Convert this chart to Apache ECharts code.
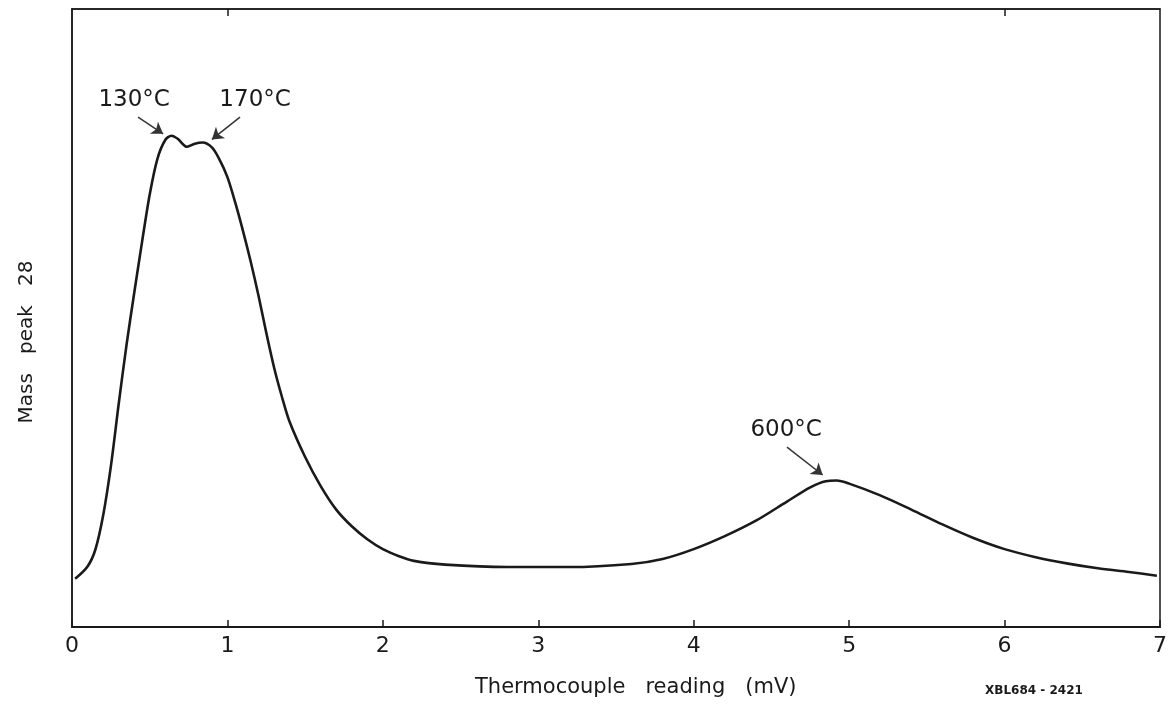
<!DOCTYPE html>
<html>
<head>
<meta charset="utf-8">
<script src="https://cdn.jsdelivr.net/npm/echarts@6/dist/echarts.min.js"></script>
<style>html,body{margin:0;padding:0;background:#fff;}#c{width:1173px;height:712px;}</style>
</head>
<body>
<div id="c"></div>
<script>
// Thermocouple reading (mV)
const xVals = [0.02, 0.10, 0.15, 0.20, 0.25, 0.30, 0.35, 0.40, 0.45, 0.50, 0.55, 0.60, 0.64, 0.68, 0.74, 0.79, 0.84, 0.90, 0.95, 1.00, 1.05, 1.10, 1.15, 1.20, 1.25, 1.30, 1.35, 1.40, 1.50, 1.60, 1.70, 1.80, 1.90, 2.00, 2.10, 2.20, 2.40, 2.80, 3.20, 3.60, 3.80, 4.00, 4.20, 4.40, 4.60, 4.75, 4.85, 4.92, 5.00, 5.20, 5.40, 5.60, 5.80, 6.00, 6.20, 6.40, 6.60, 6.80, 6.98];
// Mass peak 28 (arbitrary units)
const yVals = [7.8, 9.8, 12.5, 18.0, 26.0, 36.0, 45.5, 54.0, 62.2, 70.0, 75.8, 78.8, 79.5, 79.0, 77.7, 78.2, 78.4, 77.6, 75.6, 72.8, 68.7, 64.1, 59.1, 53.6, 47.6, 42.0, 37.3, 33.2, 27.5, 22.8, 19.0, 16.3, 14.2, 12.6, 11.5, 10.7, 10.1, 9.7, 9.7, 10.2, 11.0, 12.6, 14.7, 17.2, 20.3, 22.6, 23.6, 23.7, 23.2, 21.3, 19.0, 16.6, 14.4, 12.6, 11.3, 10.3, 9.5, 8.9, 8.3];
const xTicks = [0, 1, 2, 3, 4, 5, 6, 7];
const topTicks = [1, 6];
// annotations: label text, label position, arrow start, arrow end
const annoLabels = ['130°C', '170°C', '600°C'];
const annoLabelPos = [[0.40, 85.3], [1.178, 85.3], [4.595, 31.9]];
const arrowFrom = [[0.425, 82.5], [1.081, 82.5], [4.60, 29.1]];
const arrowTo = [[0.586, 79.8], [0.90, 78.9], [4.83, 24.6]];

const data = xVals.map((x, i) => [x, yVals[i]]);
const ink = '#1a1a1a';

const chart = echarts.init(document.getElementById('c'), null, {renderer: 'canvas'});
chart.setOption({
  animation: false,
  backgroundColor: '#fff',
  grid: {left: 72, right: 13, top: 9, bottom: 85, show: true, borderColor: ink, borderWidth: 1.5, backgroundColor: 'transparent'},
  xAxis: [{
    type: 'value', min: 0, max: 7, interval: 1, position: 'bottom',
    axisLine: {show: true, onZero: false, lineStyle: {color: ink, width: 2}},
    axisTick: {show: true, inside: true, length: 7, lineStyle: {color: ink, width: 1.5}},
    axisLabel: {show: true, margin: 8, color: ink, fontSize: 22, fontFamily: 'DejaVu Sans',
      formatter: v => xTicks.indexOf(v) >= 0 ? String(v) : ''},
    splitLine: {show: false}
  }, {
    type: 'value', min: 0, max: 7, interval: 1, position: 'top',
    axisLine: {show: true, onZero: false, lineStyle: {color: ink, width: 1.5}},
    axisTick: {show: true, inside: true, length: 7, customValues: topTicks, lineStyle: {color: ink, width: 1.5}},
    axisLabel: {show: false},
    splitLine: {show: false}
  }],
  yAxis: {
    type: 'value', min: 0, max: 100,
    axisLine: {show: true, onZero: false, lineStyle: {color: ink, width: 1.5}},
    axisTick: {show: false}, axisLabel: {show: false}, splitLine: {show: false}
  },
  graphic: [
    {type: 'text', left: 475, top: 677, silent: true,
      style: {text: 'Thermocouple   reading   (mV)', fill: ink, font: '21px "DejaVu Sans"'}},
    {type: 'text', left: 985, top: 685, silent: true,
      style: {text: 'XBL684 - 2421', fill: ink, font: 'bold 12px "DejaVu Sans"'}},
    {type: 'text', x: 27, y: 342, rotation: Math.PI / 2, silent: true,
      style: {text: 'Mass   peak   28', fill: ink, font: '20px "DejaVu Sans"', align: 'center', verticalAlign: 'middle'}}
  ],
  series: [{
    type: 'line', data: data, smooth: 0.3, showSymbol: false, silent: true,
    lineStyle: {color: ink, width: 2.6},
    markLine: {
      silent: true, symbol: ['none', 'arrow'], symbolSize: 11, animation: false,
      label: {show: false},
      lineStyle: {color: '#333', width: 1.5, type: 'solid'},
      data: arrowFrom.map((p, i) => [{coord: p}, {coord: arrowTo[i]}])
    },
    markPoint: {
      silent: true, symbol: 'circle', symbolSize: 0, animation: false,
      label: {show: true, position: 'inside', color: ink, fontSize: 23, fontFamily: 'DejaVu Sans', formatter: p => p.name},
      data: annoLabels.map((t, i) => ({name: t, coord: annoLabelPos[i]}))
    }
  }]
});
</script>
</body>
</html>
